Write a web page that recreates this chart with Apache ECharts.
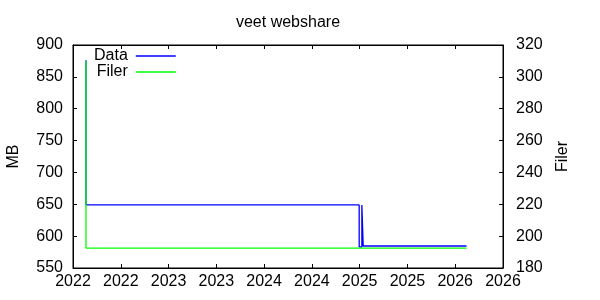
<!DOCTYPE html>
<html>
<head>
<meta charset="utf-8">
<script src="https://cdn.jsdelivr.net/npm/echarts@6/dist/echarts.min.js"></script>
<style>html,body{margin:0;padding:0;background:#fff}#c{width:600px;height:300px}</style>
</head>
<body>
<div id="c"></div>
<script>
// Decimal-year x positions and values
const dataX  = [2022.136, 2022.136, 2024.995, 2024.995, 2025.023, 2025.023, 2025.037, 2025.037, 2026.118];
const dataMB = [876,      649,      649,      583,      583,      649,      649,      584.5,    584.5];
const filerX = [2022.136, 2022.136, 2026.118];
const filerN = [310,      192.5,    192.5];
const xTickLabels = ['2022','2022','2023','2023','2024','2024','2025','2025','2026','2026'];
const seriesNames = ['Data', 'Filer'];
const titleText = 'veet webshare';

const FONT = 'Liberation Sans';
const chart = echarts.init(document.getElementById('c'), null, {renderer: 'canvas'});
const xLabel = v => xTickLabels[Math.round((v - 2022) / 0.5)] || '';
const axisCommon = {
  axisLine: {show: true, lineStyle: {color: '#000', width: 1}},
  axisTick: {show: true, inside: true, length: 4, lineStyle: {color: '#000'}},
  splitLine: {show: false},
};
chart.setOption({
  animation: false,
  backgroundColor: '#fff',
  textStyle: {fontFamily: FONT},
  title: {
    text: titleText, left: 288, textAlign: 'center', top: 15, padding: 0,
    textStyle: {fontSize: 16, fontWeight: 'normal', color: '#000', fontFamily: FONT}
  },
  legend: {
    data: seriesNames, orient: 'vertical', left: 94, top: 48, padding: 0,
    align: 'right', icon: 'rect', itemWidth: 40, itemHeight: 1.5, itemGap: 0,
    textStyle: {fontSize: 16, color: '#000', fontFamily: FONT, lineHeight: 16, padding: [0, 3, 0, 0]}
  },
  grid: {left: 73, right: 97, top: 45, bottom: 32, show: true, borderColor: '#000', borderWidth: 1,
    containLabel: false, outerBoundsMode: 'none'},
  xAxis: [
    Object.assign({type: 'value', min: 2022, max: 2026.5, interval: 0.5, position: 'bottom',
      axisLabel: {formatter: xLabel, fontSize: 16, color: '#000', margin: 6, fontFamily: FONT}}, axisCommon),
    Object.assign({type: 'value', min: 2022, max: 2026.5, interval: 0.5, position: 'top',
      axisLabel: {show: false}}, axisCommon)
  ],
  yAxis: [
    Object.assign({type: 'value', min: 550, max: 900, interval: 50, position: 'left',
      name: 'MB', nameLocation: 'middle', nameRotate: 90, nameGap: 51,
      nameTextStyle: {fontSize: 16, color: '#000', fontFamily: FONT},
      axisLabel: {fontSize: 16, color: '#000', margin: 10, fontFamily: FONT}}, axisCommon),
    Object.assign({type: 'value', min: 180, max: 320, interval: 20, position: 'right',
      name: 'Filer', nameLocation: 'middle', nameRotate: 90, nameGap: 52,
      nameTextStyle: {fontSize: 16, color: '#000', fontFamily: FONT},
      axisLabel: {fontSize: 16, color: '#000', margin: 13, fontFamily: FONT}}, axisCommon)
  ],
  series: [
    {name: seriesNames[0], type: 'line', xAxisIndex: 0, yAxisIndex: 0, showSymbol: false, symbol: 'none',
      color: '#0000ff', lineStyle: {width: 1.3, color: '#0000ff'},
      data: dataX.map((x, i) => [x, dataMB[i]])},
    {name: seriesNames[1], type: 'line', xAxisIndex: 0, yAxisIndex: 1, showSymbol: false, symbol: 'none',
      color: '#00ff00', lineStyle: {width: 1.3, color: '#00ff00'},
      data: filerX.map((x, i) => [x, filerN[i]])}
  ]
});
</script>
</body>
</html>
